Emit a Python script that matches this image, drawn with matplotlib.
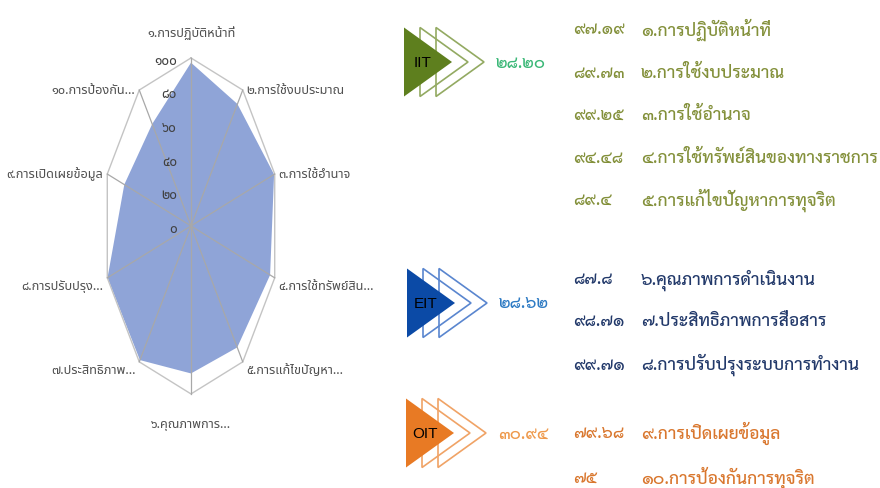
import matplotlib
matplotlib.use('Agg')
import matplotlib.pyplot as plt
from matplotlib.patches import Polygon
import numpy as np

# คะแนนรายตัวชี้วัด
categories = ['๑.การปฏิบัติหน้าที่', '๒.การใช้งบประมาณ', '๓.การใช้อำนาจ',
              '๔.การใช้ทรัพย์สินของทางราชการ', '๕.การแก้ไขปัญหาการทุจริต',
              '๖.คุณภาพการดำเนินงาน', '๗.ประสิทธิภาพการสื่อสาร',
              '๘.การปรับปรุงระบบการทำงาน', '๙.การเปิดเผยข้อมูล',
              '๑๐.การป้องกันการทุจริต']
short_labels = ['๑.การปฏิบัติหน้าที่', '๒.การใช้งบประมาณ', '๓.การใช้อำนาจ',
                '๔.การใช้ทรัพย์สิน...', '๕.การแก้ไขปัญหา...', '๖.คุณภาพการ...',
                '๗.ประสิทธิภาพ...', '๘.การปรับปรุง...', '๙.การเปิดเผยข้อมูล',
                '๑๐.การป้องกัน...']
values = [97.19, 89.73, 99.25, 94.48, 89.4, 87.8, 98.71, 99.71, 79.68, 75]
r_ticks = [0, 20, 40, 60, 80, 100]

groups = ['IIT', 'EIT', 'OIT']
group_scores = [28.20, 28.62, 30.94]
group_items = [[0, 1, 2, 3, 4], [5, 6, 7], [8, 9]]

THAI = str.maketrans('0123456789', '๐๑๒๓๔๕๖๗๘๙')


def th(s):
    return str(s).translate(THAI)


fig = plt.figure(figsize=(8.8, 4.88), dpi=100)

# ---- เรดาร์ (บีบแนวนอน เหมือนภาพต้นฉบับ) ----
ax = fig.add_axes([0, 0, 382 / 880, 1])
ax.set_xlim(-217, 217)
ax.set_ylim(-156, 134.5)
ax.axis('off')

n = len(values)
ang = np.pi / 2 - 2 * np.pi * np.arange(n) / n
vx = np.array(values) * np.cos(ang)
vy = np.array(values) * np.sin(ang)
ax.fill(vx, vy, color='#8FA4D7', zorder=1, lw=0)

ox = 100 * np.cos(ang)
oy = 100 * np.sin(ang)
ax.plot(np.append(ox, ox[0]), np.append(oy, oy[0]), color='#C4C4C4', lw=1.0, zorder=2)
for i in range(n):
    ax.plot([0, ox[i]], [0, oy[i]], color='#A8A8A8', lw=0.9, zorder=2)

for v in r_ticks:
    ax.text(-16, v - 2, th(v), ha='right', va='center', fontsize=9.8,
            color='#404040', family=['Noto Sans Thai', 'DejaVu Sans'], zorder=3)

for i, lab in enumerate(short_labels):
    if i == 0:
        off, ha, va = (0, 25), 'center', 'center'
    elif i == 5:
        off, ha, va = (0, -31), 'center', 'center'
    elif i < 5:
        off, ha, va = (4, 0 if i < 3 else -9), 'left', 'center'
    else:
        off, ha, va = (-4, 0 if i > 7 else -9), 'right', 'center'
    ax.annotate(lab, (ox[i], oy[i]), xytext=off, textcoords='offset pixels',
                ha=ha, va=va, fontsize=9.2, color='#505050',
                family=['Noto Sans Thai', 'DejaVu Sans'])

# ---- ส่วนสรุปด้านขวา ----
ap = fig.add_axes([0, 0, 1, 1])
ap.set_xlim(0, 880)
ap.set_ylim(488, 0)
ap.axis('off')

badge_x = [404, 407, 406]
badge_y = [62, 303, 433]
fills = ['#5E7F1E', '#0B4AA6', '#E87A24']
edges = ['#93AA62', '#5A86CF', '#F0A366']
score_cols = ['#3CB878', '#2E7BC4', '#EE9A4D']
item_cols = ['#83903A', '#22396A', '#D9772E']
item_y = [[30, 73, 115, 158, 200], [280, 322, 365], [433, 478]]
font_th = ['Sarabun', 'DejaVu Sans']

for g in range(3):
    x0, yc, h, w = badge_x[g], badge_y[g], 69, 48
    for k in (2, 1):
        d = 16 * k
        ap.add_patch(Polygon([(x0 + d, yc - h / 2), (x0 + d + w, yc), (x0 + d, yc + h / 2)],
                             closed=True, fill=False, ec=edges[g], lw=1.2))
    ap.add_patch(Polygon([(x0, yc - h / 2), (x0 + w, yc), (x0, yc + h / 2)],
                         closed=True, fc=fills[g], ec='none'))
    ap.text(x0 + 19, yc + 1, groups[g], ha='center', va='center', fontsize=11,
            color='black', family='Liberation Sans')
    ap.text(x0 + 92, yc + 1, th('%.2f' % group_scores[g]), ha='left', va='center',
            fontsize=12, color=score_cols[g], family=font_th, fontweight='medium')
    for j, idx in enumerate(group_items[g]):
        y = item_y[g][j]
        ap.text(573, y, th('%g' % values[idx]), ha='left', va='center',
                fontsize=12, color=item_cols[g], family=font_th, fontweight='medium')
        ap.text(641, y, categories[idx], ha='left', va='center',
                fontsize=12.5, color=item_cols[g], family=font_th, fontweight='medium')

fig.savefig('out.png', dpi=100)
